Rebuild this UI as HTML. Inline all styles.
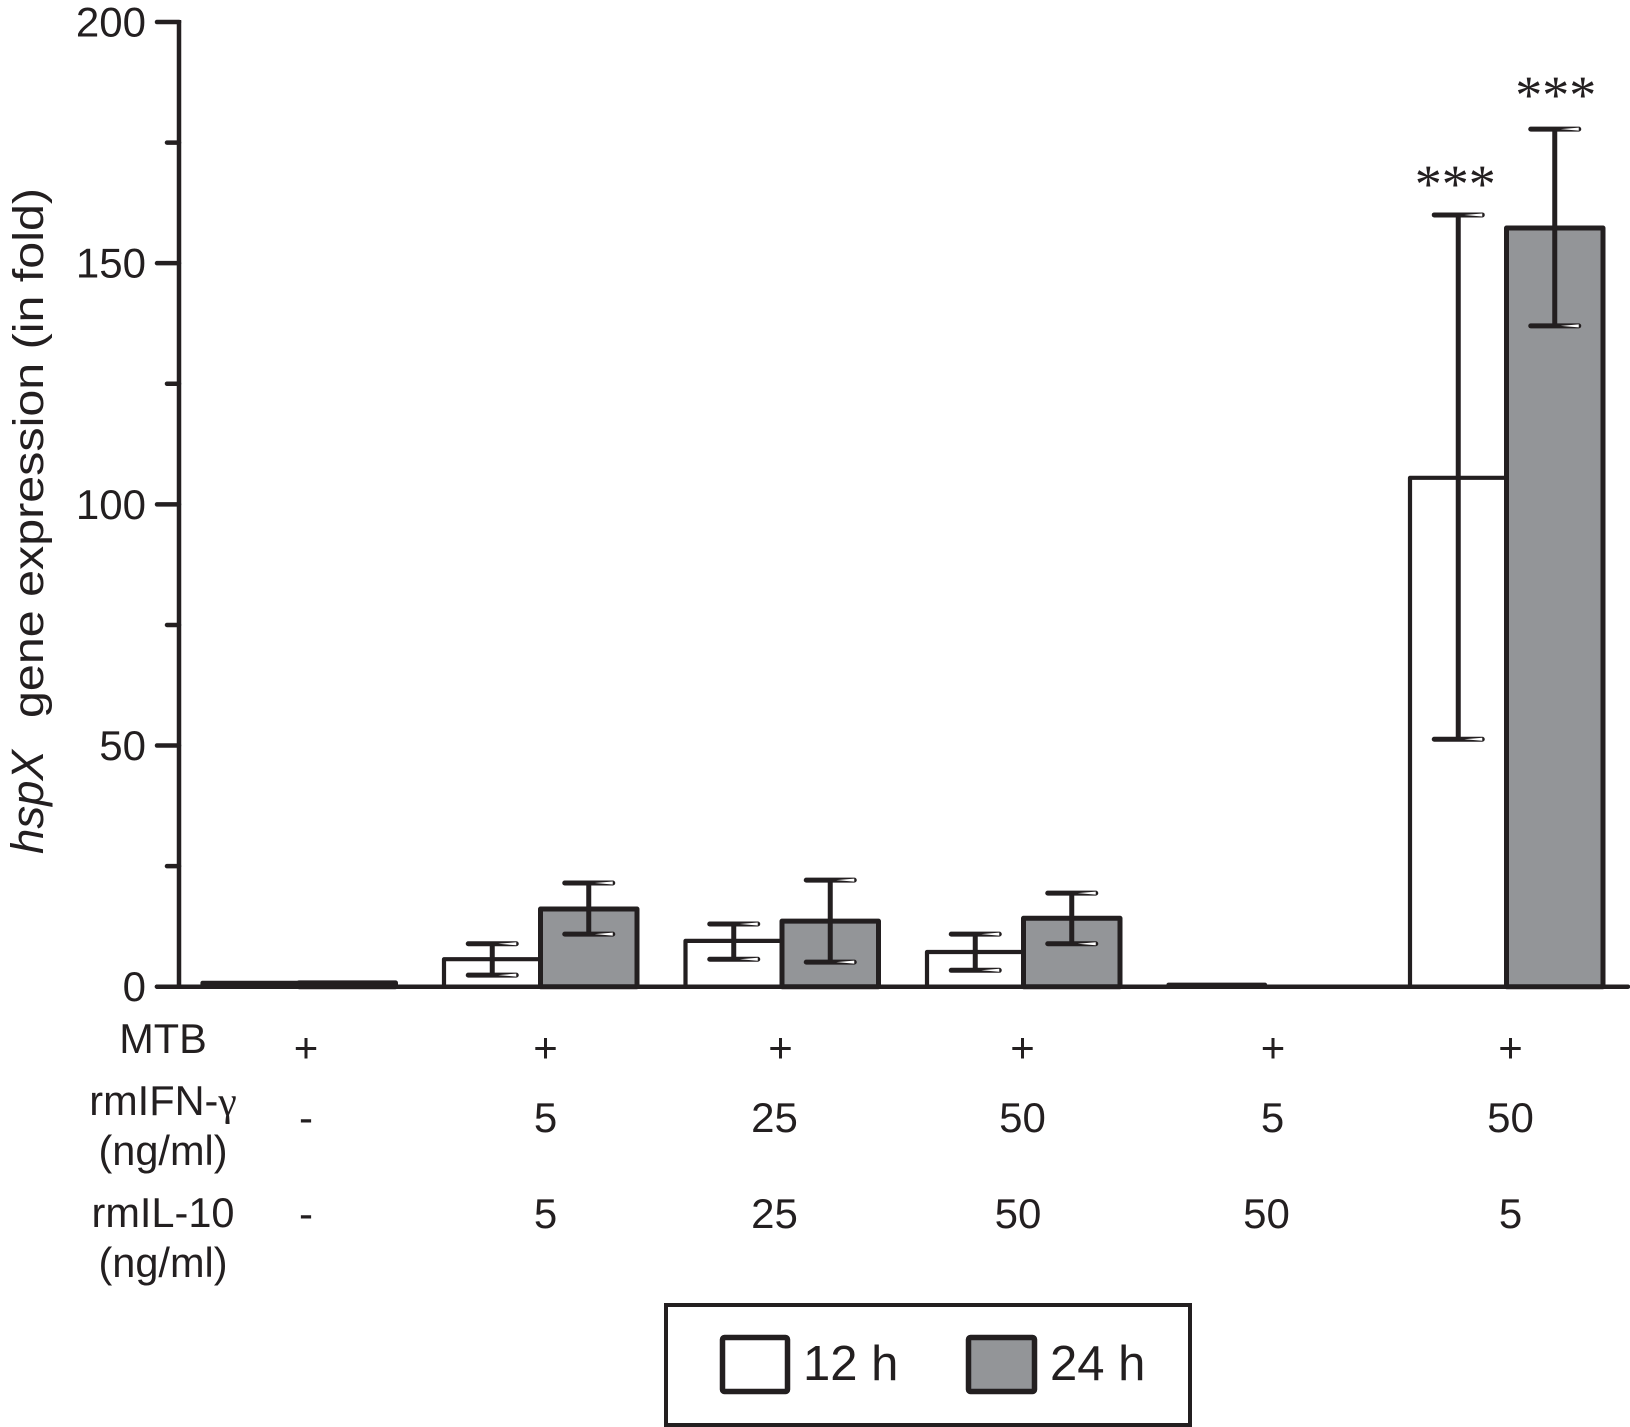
<!DOCTYPE html>
<html lang="en">
<head>
<meta charset="utf-8">
<title>hspX gene expression</title>
<style>
html,body{margin:0;padding:0;background:#fff;width:1630px;height:1427px;overflow:hidden}
svg{display:block}
text{font-family:"Liberation Sans",sans-serif;fill:#231f20}
.t{font-size:42px;text-anchor:middle}
.l{font-size:41.5px;text-anchor:middle}
.s{font-family:"Liberation Serif",serif;font-size:54px;text-anchor:middle}
</style>
</head>
<body>
<svg id="chart" xmlns="http://www.w3.org/2000/svg" width="1630" height="1427" viewBox="0 0 1630 1427">
  <g id="bars"></g>
  <g id="axes"></g>

  <text transform="translate(43,854) rotate(-90)" font-size="45" font-style="italic" textLength="104" lengthAdjust="spacingAndGlyphs">hspX</text>
  <text transform="translate(43,718) rotate(-90)" font-size="43" textLength="530" lengthAdjust="spacingAndGlyphs">gene expression (in fold)</text>

  <g>
    <text class="l" x="163" y="1053">MTB</text>
    <text class="l" x="163" y="1115">rmIFN-<tspan font-family="Liberation Serif">γ</tspan></text>
    <text class="l" x="163" y="1165">(ng/ml)</text>
    <text class="l" x="163" y="1227">rmIL-10</text>
    <text class="l" x="163" y="1277">(ng/ml)</text>
  </g>

  <g>
    <text class="t" x="306" y="1062">+</text>
    <text class="t" x="545.5" y="1062">+</text>
    <text class="t" x="780.5" y="1062">+</text>
    <text class="t" x="1022.5" y="1062">+</text>
    <text class="t" x="1273" y="1062">+</text>
    <text class="t" x="1510.5" y="1062">+</text>
  </g>
  <g>
    <text class="t" x="306" y="1132">-</text>
    <text class="t" x="545.5" y="1132">5</text>
    <text class="t" x="774.5" y="1132">25</text>
    <text class="t" x="1022.5" y="1132">50</text>
    <text class="t" x="1272.5" y="1132">5</text>
    <text class="t" x="1510.5" y="1132">50</text>
  </g>
  <g>
    <text class="t" x="306" y="1228">-</text>
    <text class="t" x="545.5" y="1228">5</text>
    <text class="t" x="774.5" y="1228">25</text>
    <text class="t" x="1018" y="1228">50</text>
    <text class="t" x="1266.5" y="1228">50</text>
    <text class="t" x="1510.5" y="1228">5</text>
  </g>

  <g>
    <rect x="666" y="1305" width="524" height="120" fill="#fff" stroke="#231f20" stroke-width="4"/>
    <rect x="722.5" y="1337.5" width="65" height="54" rx="2" fill="#fff" stroke="#231f20" stroke-width="5.5"/>
    <text x="803" y="1380" font-size="49">12 h</text>
    <rect x="968.5" y="1337.5" width="66" height="54" rx="2" fill="#939598" stroke="#231f20" stroke-width="5.5"/>
    <text x="1050" y="1380" font-size="49">24 h</text>
  </g>
</svg>
<script>
const yTicks = [0, 25, 50, 75, 100, 125, 150, 175, 200];
const yTickLabels = ['0', '', '50', '', '100', '', '150', '', '200'];
const groups = ['g1', 'g2', 'g3', 'g4', 'g5', 'g6'];
const values12h = [0.8, 5.7, 9.5, 7.2, 0.4, 105.5];
const values24h = [0.8, 16.1, 13.6, 14.2, null, 157.3];
const errHigh12h = [null, 8.9, 13, 10.9, null, 160];
const errLow12h = [null, 2.4, 5.7, 3.4, null, 51.3];
const errHigh24h = [null, 21.5, 22.1, 19.4, null, 177.8];
const errLow24h = [null, 10.9, 5.1, 8.9, null, 137];
const stars12h = [null, null, null, null, null, '***'];
const stars24h = [null, null, null, null, null, '***'];

const INK = '#231f20';
const GRAY = '#939598';
const NS = 'http://www.w3.org/2000/svg';
const Y0 = 986.7;
const PX_PER_UNIT = 4.8235;
const GROUP_START = 202.5;
const GROUP_STEP = 241.5;
const BAR_W = 96.5;
const CAP_HALF = 26;

function yScale(v) { return Y0 - v * PX_PER_UNIT; }
function xBar(groupIndex, seriesIndex) { return GROUP_START + GROUP_STEP * groupIndex + BAR_W * seriesIndex; }

function make(tag, attrs, parent) {
  const el = document.createElementNS(NS, tag);
  for (const k in attrs) el.setAttribute(k, attrs[k]);
  parent.appendChild(el);
  return el;
}

const barsG = document.getElementById('bars');
const axesG = document.getElementById('axes');

function drawBar(i, s, value, fill, sw) {
  if (value === null) return;
  const x = xBar(i, s);
  const top = yScale(value);
  const el = make('rect', {x: x, y: top, width: BAR_W, height: Y0 - top, fill: fill, stroke: INK, 'stroke-width': sw, 'stroke-linejoin': 'round'}, barsG);
  
  
}

function drawCap(cx, value) {
  const y = yScale(value);
  const cap = make('line', {x1: cx - CAP_HALF + 2, x2: cx + CAP_HALF - 2, y1: y, y2: y, stroke: INK, 'stroke-width': 5, 'stroke-linecap': 'round'}, barsG);
  
  
  const pts = [[cx + 6, y], [cx + CAP_HALF - 2, y - 1.5], [cx + CAP_HALF - 2, y + 1.5]];
  const glint = make('polygon', {points: pts.map(p => p.join(',')).join(' '), fill: '#fff'}, barsG);
  
  
}

function drawError(i, s, hi, lo) {
  if (hi === null || lo === null) return;
  const cx = xBar(i, s) + BAR_W / 2;
  const stem = make('line', {x1: cx, x2: cx, y1: yScale(hi), y2: yScale(lo), stroke: INK, 'stroke-width': 5}, barsG);
  
  
  drawCap(cx, hi);
  drawCap(cx, lo);
}

function drawStars(i, s, hi, label, dx, dy) {
  if (label === null) return;
  const cx = xBar(i, s) + BAR_W / 2;
  const t = make('text', {class: 's', x: cx + dx, y: yScale(hi) + dy}, barsG);
  
  
  t.textContent = label;
}

groups.forEach((g, i) => {
  drawBar(i, 0, values12h[i], '#fff', 4.2);
  drawBar(i, 1, values24h[i], GRAY, 5);
});
groups.forEach((g, i) => {
  drawError(i, 0, errHigh12h[i], errLow12h[i]);
  drawError(i, 1, errHigh24h[i], errLow24h[i]);
  drawStars(i, 0, errHigh12h[i], stars12h[i], -3, -13);
  drawStars(i, 1, errHigh24h[i], stars24h[i], 1, -16);
});

const yAxis = make('line', {x1: 179, x2: 179, y1: yScale(200) - 2, y2: Y0 + 2, stroke: INK, 'stroke-width': 4.5}, axesG);



const xAxis = make('line', {x1: 157, x2: 1628, y1: Y0, y2: Y0, stroke: INK, 'stroke-width': 4.5, 'stroke-linecap': 'round'}, axesG);



yTicks.forEach((v, k) => {
  const major = yTickLabels[k] !== '';
  const y = yScale(v);
  const tick = make('line', {x1: major ? 157 : 167, x2: 179, y1: y, y2: y, stroke: INK, 'stroke-width': 4.5, 'stroke-linecap': 'round'}, axesG);
  
  
  if (major) {
    const t = make('text', {x: 146, y: y + 14.5, 'text-anchor': 'end', 'font-size': 42}, axesG);
    
    
    t.textContent = yTickLabels[k];
  }
});
</script>
</body>
</html>
